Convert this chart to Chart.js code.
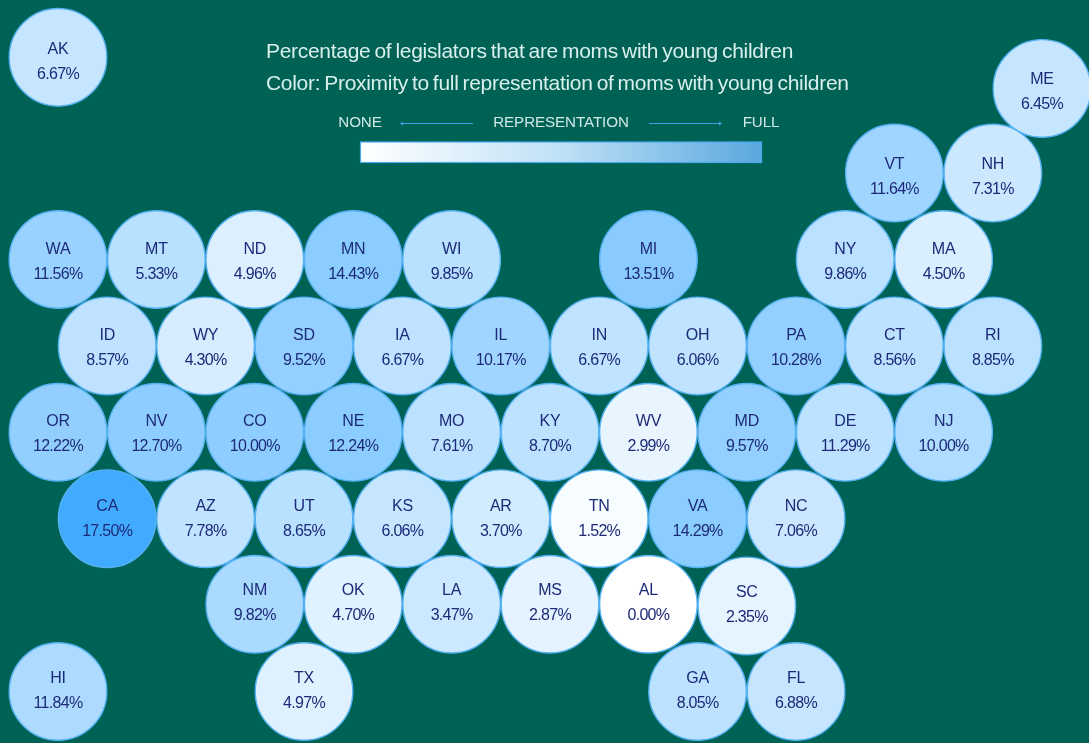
<!DOCTYPE html>
<html><head><meta charset="utf-8">
<style>html,body{margin:0;padding:0;background:#006255;overflow:hidden}#w{width:1089px;height:743px}</style>
<script src="https://cdn.jsdelivr.net/npm/chart.js@4"></script></head>
<body><div id="w"><canvas id="c" width="1089" height="743"></canvas></div>
<script>
const states=["AK","ME","VT","NH","WA","MT","ND","MN","WI","MI","NY","MA","ID","WY","SD","IA","IL","IN","OH","PA","CT","RI","OR","NV","CO","NE","MO","KY","WV","MD","DE","NJ","CA","AZ","UT","KS","AR","TN","VA","NC","NM","OK","LA","MS","AL","SC","HI","TX","GA","FL"];
const shares=[6.67,6.45,11.64,7.31,11.56,5.33,4.96,14.43,9.85,13.51,9.86,4.50,8.57,4.30,9.52,6.67,10.17,6.67,6.06,10.28,8.56,8.85,12.22,12.70,10.00,12.24,7.61,8.70,2.99,9.57,11.29,10.00,17.50,7.78,8.65,6.06,3.70,1.52,14.29,7.06,9.82,4.70,3.47,2.87,0.00,2.35,11.84,4.97,8.05,6.88];
const columns=[0,20,17,19,0,2,4,6,8,12,16,18,1,3,5,7,9,11,13,15,17,19,0,2,4,6,8,10,12,14,16,18,1,3,5,7,9,11,13,15,4,6,8,10,12,14,0,5,13,15];
const rows=[-2.34,-1.98,-1,-1,0,0,0,0,0,0,0,0,1,1,1,1,1,1,1,1,1,1,2,2,2,2,2,2,2,2,2,2,3,3,3,3,3,3,3,3,3.99,3.99,3.99,3.99,3.99,4.01,5,5,5,5];
const proximity=[.30,.30,.50,.27,.53,.37,.19,.60,.37,.62,.36,.20,.34,.21,.56,.34,.50,.33,.33,.56,.35,.36,.57,.59,.59,.60,.35,.35,.12,.56,.35,.42,1,.33,.37,.30,.24,.04,.60,.28,.44,.16,.26,.14,0,.13,.43,.17,.35,.30];
const legendLabels=["NONE","REPRESENTATION","FULL"];
const titleLines=["Percentage of legislators that are moms with young children","Color: Proximity to full representation of moms with young children"];

const mix=t=>`rgb(${Math.round(255-191*t)},${Math.round(255-84*t)},255)`;
const txt=(ctx,s,x,y,font,color,align,sp,ws)=>{ctx.font=font;ctx.fillStyle=color;ctx.textAlign=align;ctx.textBaseline='middle';ctx.letterSpacing=sp;ctx.wordSpacing=ws||'0px';ctx.fillText(s,x,y);};
const overlay={id:'overlay',afterDatasetsDraw(chart){
  const {ctx,scales:{x,y}}=chart;ctx.save();
  const F='"Liberation Sans",Arial,sans-serif';
  states.forEach((s,i)=>{
    const px=x.getPixelForValue(columns[i]),py=y.getPixelForValue(rows[i]);
    const r=rows[i],d=-0.55*r-(r>3.5&&r<4.5?2:r>=3?0.8:0);
    txt(ctx,s,px,py-9.5+d,`16px ${F}`,'#1d2a78','center','-0.2px');
    txt(ctx,shares[i].toFixed(2)+'%',px,py+15.5+d,`16px ${F}`,'#1d2a78','center','-0.7px');
  });
  txt(ctx,titleLines[0],266,52.5,`21px ${F}`,'#d8efec','left','-0.3px','-1.5px');
  txt(ctx,titleLines[1],266,84.5,`21px ${F}`,'#d8efec','left','-0.3px','-1.5px');
  txt(ctx,legendLabels[0],360,122.5,`15.2px ${F}`,'#d0e9e6','center','-0.1px');
  txt(ctx,legendLabels[1],561,122.5,`15.2px ${F}`,'#d0e9e6','center','-0.1px');
  txt(ctx,legendLabels[2],761,122.5,`15.2px ${F}`,'#d0e9e6','center','-0.1px');
  ctx.strokeStyle='#3fa2e2';ctx.fillStyle='#3fa2e2';ctx.lineWidth=1;
  ctx.beginPath();ctx.moveTo(401,123.5);ctx.lineTo(473,123.5);ctx.moveTo(649,123.5);ctx.lineTo(721,123.5);ctx.stroke();
  ctx.beginPath();ctx.moveTo(400,123.5);ctx.lineTo(403,121.5);ctx.lineTo(403,125.5);ctx.fill();
  ctx.beginPath();ctx.moveTo(722,123.5);ctx.lineTo(719,121.5);ctx.lineTo(719,125.5);ctx.fill();
  const g=ctx.createLinearGradient(361,0,762,0);g.addColorStop(0,'#ffffff');g.addColorStop(.5,'#bfe1f6');g.addColorStop(1,'#5aa8df');
  ctx.fillStyle=g;ctx.fillRect(360.5,142,401,20.5);
  ctx.strokeStyle='#4aaaf0';ctx.lineWidth=1.2;ctx.strokeRect(360.5,142,401,20.5);
  ctx.restore();
}};
new Chart(document.getElementById('c'),{
  type:'bubble',
  data:{datasets:[{label:'Moms with young children',
    data:states.map((s,i)=>({x:columns[i],y:rows[i]})),
    backgroundColor:proximity.map(mix),borderColor:'#55b2f4',borderWidth:1.4,radius:48.8,clip:false}]},
  options:{responsive:false,animation:false,layout:{padding:0,autoPadding:false},
    plugins:{legend:{display:false},tooltip:{enabled:false}},
    scales:{x:{type:'linear',display:false,min:-1.179,max:20.955},
            y:{type:'linear',display:false,reverse:true,min:-3.0035,max:5.596}}},
  plugins:[overlay]});
</script></body></html>
